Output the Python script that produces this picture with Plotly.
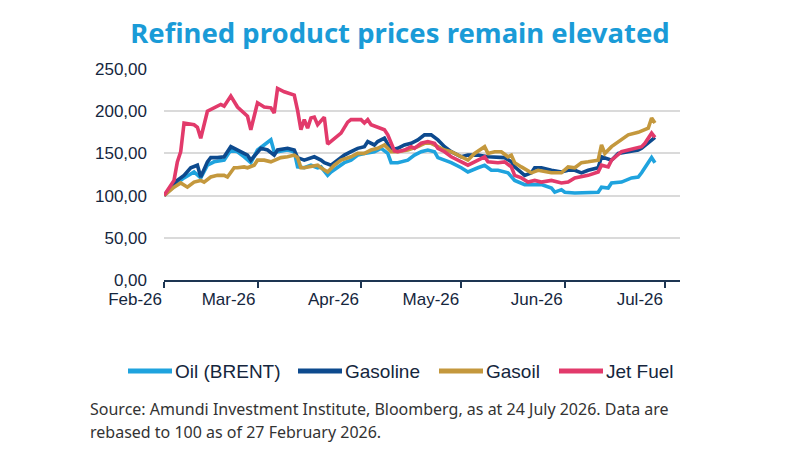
import datetime as dt
import plotly.graph_objects as go

# Data (rebased to 100 on 27 Feb 2026); days = days since 27 Feb 2026
START = dt.date(2026, 2, 27)

brent_days = [0, 4, 6, 9, 11, 13, 15, 18, 20, 22, 24, 26, 28, 30, 32, 33, 34, 37, 39, 40, 42, 44, 46, 47, 49, 50,
              52, 54, 56, 58, 60, 63, 65, 67, 68, 70, 73, 75, 77, 79, 81, 82, 84, 86, 89, 91, 94, 96, 98, 100,
              103, 105, 108, 111, 113, 116, 117, 119, 120, 123, 126, 128, 130, 131, 133, 134, 137, 140, 142, 143,
              146, 147]
brent_vals = [100, 115, 121, 128, 121, 136, 140, 142, 154, 152, 146, 139, 154, 160, 166, 152, 152, 154, 152, 134,
              133, 136, 133, 134, 124, 128, 133, 139, 142, 148, 150, 152, 156, 150, 139, 139, 142, 148, 152, 154,
              152, 145, 142, 139, 133, 128, 133, 136, 130, 130, 127, 118, 113, 113, 113, 109, 104, 107, 104, 103,
              103, 103, 104, 110, 109, 115, 116, 121, 122, 127, 145, 139]

gasoline_days = [0, 4, 6, 8, 10, 11, 13, 14, 16, 18, 20, 21, 23, 25, 26, 28, 29, 31, 33, 34, 37, 39, 40, 42, 44,
                 45, 47, 48, 50, 52, 54, 56, 58, 60, 61, 63, 64, 66, 68, 70, 72, 74, 76, 78, 80, 82, 84, 86, 89,
                 91, 94, 97, 100, 102, 104, 105, 108, 110, 111, 113, 116, 119, 121, 123, 125, 127, 130, 131, 134,
                 136, 139, 142, 143, 146, 147]
gasoline_vals = [100, 118, 124, 133, 136, 122, 140, 145, 145, 146, 158, 156, 152, 148, 142, 152, 156, 154, 148,
                 154, 156, 154, 145, 142, 145, 146, 142, 139, 136, 142, 148, 152, 156, 158, 164, 160, 164, 168, 154,
                 156, 160, 162, 166, 172, 172, 166, 158, 152, 146, 148, 148, 146, 146, 145, 140, 134, 124, 127, 133,
                 133, 130, 128, 130, 130, 127, 130, 133, 146, 142, 150, 152, 154, 156, 166, 169]

gasoil_days = [0, 3, 5, 7, 9, 11, 12, 14, 16, 18, 19, 21, 22, 24, 25, 27, 28, 30, 32, 33, 35, 37, 39, 40, 41, 42,
               44, 46, 47, 49, 51, 53, 56, 58, 60, 62, 64, 66, 68, 70, 73, 76, 78, 80, 82, 84, 86, 89, 91, 93, 95,
               96, 97, 99, 101, 103, 104, 105, 107, 109, 110, 112, 114, 116, 119, 121, 123, 125, 127, 130, 131,
               132, 134, 137, 139, 142, 145, 146, 147]
gasoil_vals = [100, 110, 115, 110, 116, 118, 116, 122, 124, 124, 122, 133, 133, 134, 133, 136, 142, 142, 140, 142,
               145, 146, 148, 145, 133, 133, 134, 136, 133, 128, 136, 142, 146, 150, 150, 154, 156, 160, 152, 152,
               154, 158, 162, 162, 158, 154, 152, 146, 142, 150, 156, 158, 150, 152, 152, 146, 148, 139, 134, 130,
               127, 130, 128, 127, 127, 134, 133, 139, 140, 142, 160, 150, 158, 166, 172, 175, 180, 192, 186]

jet_days = [0, 3, 4, 5, 6, 9, 10, 11, 13, 15, 17, 18, 20, 22, 25, 26, 28, 30, 32, 33, 34, 36, 39, 40, 41, 42, 43,
            44, 45, 46, 48, 49, 51, 53, 55, 56, 59, 60, 61, 62, 66, 67, 69, 70, 72, 74, 75, 77, 79, 81, 82, 84,
            86, 89, 91, 93, 96, 97, 100, 102, 104, 105, 107, 109, 111, 113, 116, 119, 121, 123, 125, 127, 130,
            131, 133, 134, 137, 139, 141, 143, 144, 146, 147]
jet_vals = [100, 118, 140, 152, 186, 184, 181, 168, 200, 204, 208, 206, 218, 205, 194, 178, 210, 205, 204, 198,
            227, 223, 219, 201, 178, 190, 180, 192, 193, 184, 193, 161, 167, 174, 187, 190, 190, 186, 190, 184,
            178, 172, 153, 152, 154, 158, 156, 162, 164, 162, 156, 152, 146, 140, 136, 140, 146, 140, 139, 140,
            134, 124, 121, 116, 118, 116, 118, 115, 116, 121, 122, 124, 128, 136, 134, 142, 152, 154, 155, 158,
            162, 174, 169]

series_names = ["Oil (BRENT)", "Gasoline", "Gasoil", "Jet Fuel"]
series_days = [brent_days, gasoline_days, gasoil_days, jet_days]
series_vals = [brent_vals, gasoline_vals, gasoil_vals, jet_vals]
series_colors = ["#1fa3de", "#0d4a8e", "#c4983d", "#e23a6b"]

tick_dates = ["2026-02-27", "2026-03-27", "2026-04-27", "2026-05-27", "2026-06-27", "2026-07-27"]
tick_labels = ["Feb-26", "Mar-26", "Apr-26", "May-26", "Jun-26", "Jul-26"]
y_ticks = [0, 50, 100, 150, 200, 250]
y_labels = ["0,00", "50,00", "100,00", "150,00", "200,00", "250,00"]

title_text = "Refined product prices remain elevated"
source_lines = ["Source: Amundi Investment Institute, Bloomberg, as at 24 July 2026. Data are",
                "rebased to 100 as of 27 February 2026."]

TEXT = "#15263d"

# plot-area geometry in pixels (for placing legend / notes in paper coords)
PL, PR, PT, PB = 164, 680, 69, 280
PW, PH = PR - PL, PB - PT


def px(xp):
    return (xp - PL) / PW


def py(yp):
    return (PB - yp) / PH


fig = go.Figure()
for name, days, vals, col in zip(series_names, series_days, series_vals, series_colors):
    dates = [(START + dt.timedelta(days=d)).isoformat() for d in days]
    fig.add_trace(go.Scatter(x=dates, y=vals, mode="lines", name=name,
                             line=dict(color=col, width=3.6), hoverinfo="skip", showlegend=False))

fig.update_layout(
    width=800, height=450,
    margin=dict(l=PL, r=800 - PR, t=PT, b=450 - PB),
    paper_bgcolor="white", plot_bgcolor="white",
    title=dict(text=f"<b>{title_text}</b>", x=0.5, xanchor="center", xref="container",
               y=0.925, yanchor="middle", yref="container",
               font=dict(family="Noto Sans", size=27.5, color="#1a9bd7")),
    showlegend=False,
    font=dict(family="Liberation Sans", color=TEXT),
)

fig.update_xaxes(
    type="date",
    range=["2026-02-27", "2026-07-31 12:00"],
    tickvals=tick_dates, ticktext=tick_labels,
    ticklabelposition="outside left",
    ticks="outside", ticklen=6, tickwidth=2, tickcolor="#1d3552",
    ticklabelstandoff=3,
    showline=True, linecolor="#1d3552", linewidth=2,
    showgrid=False, zeroline=False,
    tickfont=dict(family="Liberation Sans", size=17, color=TEXT),
)
fig.update_yaxes(
    range=[0, 250],
    tickvals=y_ticks, ticktext=y_labels,
    showgrid=True, gridcolor="#dadada", gridwidth=1.5,
    zeroline=False, showline=False, ticks="",
    ticklabelstandoff=16,
    tickfont=dict(family="Liberation Sans", size=17, color=TEXT),
)

# manual legend (long swatches, text right after)
legend_x = [128, 298, 439, 559]
legend_y = 371
for name, col, x0 in zip(series_names, series_colors, legend_x):
    fig.add_shape(type="line", xref="paper", yref="paper",
                  x0=px(x0), x1=px(x0 + 44), y0=py(legend_y), y1=py(legend_y),
                  line=dict(color=col, width=5))
    fig.add_annotation(text=name, xref="paper", yref="paper",
                       x=px(x0 + 45), y=py(legend_y), xanchor="left", yanchor="middle",
                       showarrow=False, font=dict(family="Liberation Sans", size=19, color=TEXT))

for i, line in enumerate(source_lines):
    fig.add_annotation(text=line, xref="paper", yref="paper",
                       x=px(88), y=py(409 + i * 23),
                       xanchor="left", yanchor="middle", showarrow=False, align="left",
                       font=dict(family="Noto Sans", size=16, color="#333333"))

fig.write_html("out.html")
